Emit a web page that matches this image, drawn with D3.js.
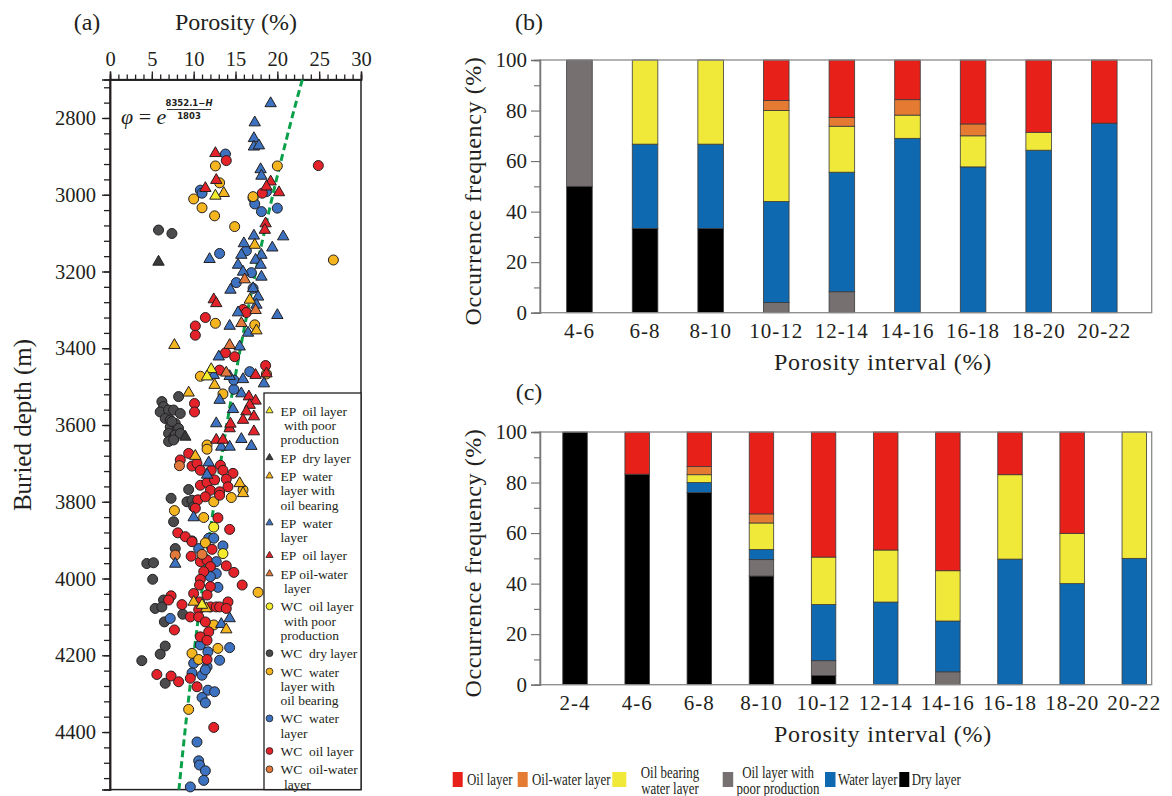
<!DOCTYPE html>
<html>
<head>
<meta charset="utf-8">
<script src="https://cdnjs.cloudflare.com/ajax/libs/d3/7.8.5/d3.min.js"></script>
<style>
  body { margin: 0; background: #fff; }
  text { font-family: "Liberation Serif", "Times New Roman", Times, serif; fill: #231f20; }
</style>
</head>
<body>
<svg id="chart" width="1172" height="796"></svg>
<script>
// ---------- panel (a) data : [porosity %, depth m] ----------
const epPoor = [[12.6,3003],[12.1,3455],[11.6,3474],[11.0,4069]];
const epDry = [[5.8,3175],[9.0,3631]];
const epBearing = [[13.6,2996],[17.3,3131],[7.7,3392],[12.5,3496],[9.4,3516],[17.5,3354],[16.7,3274],
  [10.2,3681],[15.5,3752],[15.9,3778],[10.0,4061],[11.5,4078],[13.9,4133]];
const epWater = [[19.2,2762],[17.3,2812],[17.2,2853],[17.2,2875],[17.8,2872],[18.0,2934],[18.1,2951],
  [20.7,3109],[17.2,3107],[16.0,3127],[19.4,3138],[15.7,3157],[18.1,3157],[11.9,3168],[15.3,3183],
  [17.4,3170],[18.0,3183],[15.9,3201],[18.1,3214],[14.4,3248],[17.1,3244],[17.7,3266],[15.3,3307],
  [20.0,3314],[17.5,3287],[14.3,3342],[16.5,3360],[13.0,3422],[15.5,3396],[12.4,3470],[14.3,3473],
  [15.9,3481],[18.4,3492],[15.7,3518],[13.1,3535],[14.7,3559],[12.7,3596],[15.7,3637],[13.3,3657],
  [14.3,3657],[16.9,3655],[11.8,3698],[11.6,3730],[10.0,3841],[7.8,3962],[13.3,4119],[14.3,4104]];
const epOil = [[12.6,2892],[12.7,2962],[11.4,2983],[19.2,2966],[18.7,2979],[20.2,2994],[18.6,3075],
  [18.5,3092],[12.4,3273],[12.7,3283],[16.6,3526],[17.4,3537],[16.7,3548],[16.3,3565],[17.2,3578],
  [15.9,3587],[17.2,3617],[14.3,3609],[17.4,3470],[18.7,3466],[14.4,3597],[12.7,3639],[13.5,3639]];
const epOilWater = [[16.1,3221],[17.4,3301],[15.7,3335],[14.3,3392],[13.9,3464]];

const wcPoor = [[12.4,3866],[13.5,3935]];
const wcDry = [[5.8,3092],[7.4,3101],[8.2,3526],[6.2,3539],[6.4,3552],[6.0,3566],[7.0,3561],[7.6,3561],
  [8.4,3570],[6.6,3583],[7.2,3587],[7.8,3596],[7.2,3605],[8.0,3613],[7.0,3622],[7.6,3631],[7.4,3591],
  [8.2,3609],[7.8,3626],[8.4,3622],[7.0,3643],[7.6,3639],[9.4,3768],[7.3,3791],[9.2,3800],[9.8,3796],
  [10.0,3813],[7.6,3852],[9.8,3902],[7.8,3922],[4.4,3961],[5.2,3959],[5.1,4002],[6.4,4056],[5.4,4078],
  [6.2,4074],[8.7,4093],[6.5,4113],[6.6,4176],[6.0,4197],[3.8,4214],[6.6,4273]];
const wcBearing = [[20.0,2925],[12.6,2925],[13.1,2969],[10.0,3011],[11.0,3034],[12.5,3055],[14.9,3083],
  [26.7,3170],[12.6,3335],[17.3,3339],[10.8,3473],[18.7,3467],[13.5,3519],[17.1,3005],[11.6,3652],
  [11.6,3663],[15.9,3769],[12.4,3800],[14.5,3789],[7.7,3823],[11.2,3841],[11.4,3907],[17.7,4036],
  [12.4,4121],[12.9,4182],[9.8,4195],[10.6,4211],[9.4,4341]];
const wcWater = [[13.8,2894],[10.8,2988],[11.0,2996],[17.1,3009],[17.3,3024],[18.1,3044],[20.0,3035],
  [18.7,2992],[13.1,3153],[16.3,3146],[16.9,3203],[15.1,3229],[17.1,3244],[16.7,3461],[14.8,3507],
  [14.8,3483],[10.6,3922],[11.8,3895],[12.4,3895],[13.5,3915],[12.7,3956],[12.7,3987],[12.0,3995],
  [12.9,4023],[7.2,4104],[10.8,4173],[14.3,4180],[11.7,4191],[13.1,4213],[10.0,4221],[11.6,4230],
  [9.8,4246],[11.0,4252],[11.4,4238],[11.7,4291],[12.5,4295],[11.0,4310],[11.4,4324],[10.4,4426],
  [10.6,4475],[10.7,4486],[11.4,4501],[11.2,4526],[9.6,4543]];
const wcOil = [[13.9,2911],[24.9,2924],[18.2,2996],[15.9,3299],[16.3,3307],[11.4,3320],[10.2,3342],
  [10.2,3366],[13.8,3412],[14.9,3422],[18.6,3445],[13.1,3457],[10.1,3544],[10.1,3566],[9.4,3674],
  [8.4,3691],[9.8,3707],[10.4,3700],[10.8,3718],[12.1,3718],[13.2,3705],[13.5,3718],[14.7,3726],
  [10.8,3757],[11.6,3750],[12.5,3743],[13.9,3741],[14.1,3761],[12.0,3770],[13.1,3774],[10.5,3795],
  [11.4,3787],[10.2,3817],[13.1,3783],[12.9,3842],[14.3,3872],[8.1,3881],[9.0,3891],[9.8,3904],
  [12.2,3924],[9.7,3942],[10.8,3956],[11.6,3952],[13.9,3967],[14.8,3984],[12.0,3969],[11.2,3982],
  [10.8,4002],[15.8,4017],[12.0,4021],[10.7,4017],[10.0,4039],[11.6,4043],[7.3,4045],[7.0,4056],
  [8.6,4068],[10.7,4061],[12.0,4074],[12.7,4074],[13.1,4074],[14.1,4061],[13.9,4078],[10.6,4081],
  [9.6,4100],[10.6,4100],[11.4,4113],[7.7,4134],[11.8,4139],[10.8,4152],[11.6,4161],[11.6,4211],
  [5.6,4250],[7.3,4254],[8.2,4269],[9.6,4260],[10.4,4282],[12.4,4388]];
const wcOilWater = [[8.3,3706],[7.8,3939],[11.0,3937]];

// trend line from the printed fit: phi = exp((8352.1 - H) / 1803)
const trendA = 8352.1, trendB = 1803;

// ---------- panels (b) and (c) data : occurrence frequency (%) ----------
const layerKeys = ["dry", "poor", "water", "bearing", "oilWater", "oil"];

const catsB = ["4-6","6-8","8-10","10-12","12-14","14-16","16-18","18-20","20-22"];
const bDry      = [50, 33.3, 33.3, 0, 0, 0, 0, 0, 0];
const bPoor     = [50, 0, 0, 4, 8.3, 0, 0, 0, 0];
const bWater    = [0, 33.4, 33.4, 40, 47.3, 69, 57.7, 64.3, 75];
const bBearing  = [0, 33.3, 33.3, 36, 18.2, 9.2, 12.3, 7.1, 0];
const bOilWater = [0, 0, 0, 4, 3.5, 6.1, 4.7, 0, 0];
const bOil      = [0, 0, 0, 16, 22.7, 15.7, 25.3, 28.6, 25];

const catsC = ["2-4","4-6","6-8","8-10","10-12","12-14","14-16","16-18","18-20","20-22"];
const cDry      = [100, 83.3, 76, 43, 3.6, 0, 0, 0, 0, 0];
const cPoor     = [0, 0, 0, 6.5, 5.9, 0, 5.1, 0, 0, 0];
const cWater    = [0, 0, 4, 4, 22.2, 32.7, 20.1, 49.7, 40, 50];
const cBearing  = [0, 0, 3.1, 10.5, 18.8, 20.6, 19.9, 33.4, 19.9, 50];
const cOilWater = [0, 0, 3.2, 3.6, 0, 0, 0, 0, 0, 0];
const cOil      = [0, 16.7, 13.7, 32.4, 49.5, 46.7, 54.9, 16.9, 40.1, 0];

const barColors = {oil: "#e8201a", oilWater: "#e57b33", bearing: "#f0e93a",
                   poor: "#767170", water: "#0f69b0", dry: "#000000"};
const dotColors = {poor: "#f3ec2c", dry: "#4b4b4d", bearing: "#f5b51e",
                   water: "#3d72c0", oil: "#e3222a", oilWater: "#e2793a"};

const serif = '"Liberation Serif", "Times New Roman", Times, serif';
const ink = "#231f20";
const svg = d3.select("#chart");

// ===================== panel (a) =====================
const xA = d3.scaleLinear().domain([0, 30]).range([110, 361]);
const yA = d3.scaleLinear().domain([2700, 4550]).range([79.6, 789.6]);

function styleAxis(g, size) {
  g.select(".domain").attr("stroke", ink).attr("stroke-width", 1.5);
  g.selectAll(".tick line").attr("stroke", ink).attr("stroke-width", 1.3);
  g.selectAll("text").style("font-family", serif).style("font-size", size + "px").attr("fill", ink);
}

const gxMinor = svg.append("g").attr("transform", "translate(0,79.6)")
  .call(d3.axisTop(xA).tickValues(d3.range(0, 31)).tickSize(5).tickFormat(""));
styleAxis(gxMinor, 20);
const gxMajor = svg.append("g").attr("transform", "translate(0,79.6)")
  .call(d3.axisTop(xA).tickValues(d3.range(0, 31, 5)).tickSize(8).tickPadding(6));
styleAxis(gxMajor, 20.5);

const gyMinor = svg.append("g").attr("transform", "translate(110,0)")
  .call(d3.axisLeft(yA).tickValues(d3.range(2720, 4550, 40)).tickSize(6).tickFormat(""));
styleAxis(gyMinor, 20);
const gyMajor = svg.append("g").attr("transform", "translate(110,0)")
  .call(d3.axisLeft(yA).tickValues(d3.range(2800, 4401, 200)).tickSize(8).tickPadding(6)
    .tickFormat(d3.format("d")));
styleAxis(gyMajor, 20.5);

svg.append("rect").attr("x", 110).attr("y", 79.6).attr("width", 251).attr("height", 710)
  .attr("fill", "none").attr("stroke", ink).attr("stroke-width", 1.5);

// trend line
const depthSamples = d3.range(2700, 4551, 25);
svg.append("path")
  .datum(depthSamples)
  .attr("d", d3.line().x(h => xA(Math.exp((trendA - h) / trendB))).y(h => yA(h)))
  .attr("fill", "none").attr("stroke", "#0aa04a").attr("stroke-width", 3)
  .attr("stroke-dasharray", "7,4");

const scatterSeries = [
  {data: wcDry, shape: "circle", color: dotColors.dry},
  {data: wcWater, shape: "circle", color: dotColors.water},
  {data: wcBearing, shape: "circle", color: dotColors.bearing},
  {data: wcPoor, shape: "circle", color: dotColors.poor},
  {data: wcOil, shape: "circle", color: dotColors.oil},
  {data: wcOilWater, shape: "circle", color: dotColors.oilWater},
  {data: epWater, shape: "tri", color: dotColors.water},
  {data: epBearing, shape: "tri", color: dotColors.bearing},
  {data: epPoor, shape: "tri", color: dotColors.poor},
  {data: epOil, shape: "tri", color: dotColors.oil},
  {data: epOilWater, shape: "tri", color: dotColors.oilWater},
  {data: epDry, shape: "tri", color: "#3a3a3a"}
];

const triPath = d3.symbol().type(d3.symbolTriangle).size(56)();
const dots = svg.append("g");
scatterSeries.forEach(s => {
  if (s.shape === "circle") {
    dots.selectAll(null).data(s.data).enter().append("circle")
      .attr("cx", d => xA(d[0])).attr("cy", d => yA(d[1])).attr("r", 5)
      .attr("fill", s.color).attr("stroke", ink).attr("stroke-width", 1);
  } else {
    dots.selectAll(null).data(s.data).enter().append("path")
      .attr("d", triPath)
      .attr("transform", d => "translate(" + xA(d[0]) + "," + yA(d[1]) + ")")
      .attr("fill", s.color).attr("stroke", ink).attr("stroke-width", 1);
  }
});

// formula
const f = svg.append("g");
f.append("text").attr("x", 121).attr("y", 124).style("font-size", "22px")
  .html('<tspan font-style="italic">φ</tspan><tspan> = </tspan><tspan font-style="italic">e</tspan>');
f.append("text").attr("x", 189).attr("y", 106).attr("text-anchor", "middle")
  .style("font-family", '"DejaVu Sans", sans-serif').style("font-size", "8.5px").style("font-weight", "bold")
  .html('8352.1−<tspan font-style="italic">H</tspan>');
f.append("line").attr("x1", 167).attr("x2", 211).attr("y1", 109.5).attr("y2", 109.5)
  .attr("stroke", ink).attr("stroke-width", 0.9);
f.append("text").attr("x", 189).attr("y", 119).attr("text-anchor", "middle")
  .style("font-family", '"DejaVu Sans", sans-serif').style("font-size", "8.5px").style("font-weight", "bold")
  .text("1803");

// legend (a)
const legA = [
  {lines: ["EP  oil layer", " with poor", "production"], shape: "tri", color: dotColors.poor},
  {lines: ["EP  dry layer"], shape: "tri", color: "#3a3a3a"},
  {lines: ["EP  water", "layer with", "oil bearing"], shape: "tri", color: dotColors.bearing},
  {lines: ["EP  water", "layer"], shape: "tri", color: dotColors.water},
  {lines: ["EP  oil layer"], shape: "tri", color: dotColors.oil},
  {lines: ["EP oil-water", " layer"], shape: "tri", color: dotColors.oilWater},
  {lines: ["WC  oil layer", " with poor", "production"], shape: "circle", color: dotColors.poor},
  {lines: ["WC  dry layer"], shape: "circle", color: dotColors.dry},
  {lines: ["WC  water", "layer with", "oil bearing"], shape: "circle", color: dotColors.bearing},
  {lines: ["WC  water", "layer"], shape: "circle", color: dotColors.water},
  {lines: ["WC  oil layer"], shape: "circle", color: dotColors.oil},
  {lines: ["WC  oil-water", " layer"], shape: "circle", color: dotColors.oilWater}
];
svg.append("rect").attr("x", 264).attr("y", 393).attr("width", 97).attr("height", 396.6)
  .attr("fill", "#fff").attr("stroke", ink).attr("stroke-width", 1.3);
const smallTri = d3.symbol().type(d3.symbolTriangle).size(22)();
let ly = 410.7;
const lineH = 14.3;
legA.forEach(item => {
  if (item.shape === "tri") {
    svg.append("path").attr("d", smallTri).attr("transform", "translate(269.5," + ly + ")")
      .attr("fill", item.color).attr("stroke", ink).attr("stroke-width", 0.8);
  } else {
    svg.append("circle").attr("cx", 269.5).attr("cy", ly).attr("r", 3.4)
      .attr("fill", item.color).attr("stroke", ink).attr("stroke-width", 0.8);
  }
  item.lines.forEach((t, i) => {
    svg.append("text").attr("x", 280.5).attr("y", ly + 5 + i * lineH)
      .style("font-size", "13.5px").style("white-space", "pre").text(t);
  });
  ly += item.lines.length * lineH + 4;
});

// titles (a)
svg.append("text").attr("x", 87).attr("y", 30).attr("text-anchor", "middle").style("font-size", "24px").text("(a)");
svg.append("text").attr("x", 236).attr("y", 30).attr("text-anchor", "middle").style("font-size", "24px").text("Porosity (%)");
svg.append("text").attr("transform", "translate(31,425) rotate(-90)").attr("text-anchor", "middle")
  .style("font-size", "25px").text("Buried depth (m)");

// ===================== panels (b) and (c) =====================
function drawBars(cats, cols, top, pad) {
  const rows = cats.map((c, i) => {
    const r = {cat: c};
    layerKeys.forEach((k, j) => { r[k] = cols[j][i]; });
    return r;
  });
  const left = 540, right = 1151.7, bottom = top + 252.7;
  const x = d3.scaleBand().domain(cats).range([left, right])
    .paddingInner(pad.inner).paddingOuter(pad.outer).align(pad.align);
  const y = d3.scaleLinear().domain([0, 100]).range([bottom, top]);
  const stacked = d3.stack().keys(layerKeys)(rows);

  const g = svg.append("g");
  g.selectAll("g.layer").data(stacked).enter().append("g")
    .attr("fill", d => barColors[d.key])
    .selectAll("rect").data(d => d.filter(p => p[1] - p[0] > 0)).enter().append("rect")
    .attr("x", d => x(d.data.cat)).attr("width", x.bandwidth())
    .attr("y", d => y(d[1])).attr("height", d => y(d[0]) - y(d[1]))
    .attr("stroke", "#3a3a3a").attr("stroke-width", 0.8);

  g.append("rect").attr("x", left).attr("y", top).attr("width", right - left).attr("height", bottom - top)
    .attr("fill", "none").attr("stroke", "#8a8a8a").attr("stroke-width", 1.3);

  const minor = g.append("g").attr("transform", "translate(" + left + ",0)")
    .call(d3.axisLeft(y).tickValues([10, 30, 50, 70, 90]).tickSize(6).tickFormat(""));
  const major = g.append("g").attr("transform", "translate(" + left + ",0)")
    .call(d3.axisLeft(y).tickValues([0, 20, 40, 60, 80, 100]).tickSize(9).tickPadding(4));
  [minor, major].forEach(a => {
    a.select(".domain").attr("stroke", "#7a7a7a").attr("stroke-width", 1.3);
    a.selectAll(".tick line").attr("stroke", "#6d6e71").attr("stroke-width", 1.1);
    a.selectAll("text").style("font-family", serif).style("font-size", "21px").attr("fill", ink);
  });

  g.selectAll("text.xl").data(cats).enter().append("text")
    .attr("x", d => x(d) + x.bandwidth() / 2).attr("y", bottom + 25.5)
    .attr("text-anchor", "middle").style("font-size", "21px").style("letter-spacing", "1px").text(d => d);

  g.append("text").attr("x", 883).attr("y", bottom + 57).attr("text-anchor", "middle")
    .style("font-size", "24px").style("letter-spacing", "0.8px").text("Porosity interval (%)");
  g.append("text").attr("transform", "translate(481," + (top + 131) + ") rotate(-90)")
    .attr("text-anchor", "middle").style("font-size", "24px").style("letter-spacing", "0.6px")
    .text("Occurrence frequency (%)");
}

drawBars(catsB, [bDry, bPoor, bWater, bBearing, bOilWater, bOil], 60,
  {inner: 0.61, outer: 0.467, align: 0.435});
drawBars(catsC, [cDry, cPoor, cWater, cBearing, cOilWater, cOil], 432,
  {inner: 0.606, outer: 0.225, align: 0.815});

svg.append("text").attr("x", 529).attr("y", 30).attr("text-anchor", "middle").style("font-size", "24px").text("(b)");
svg.append("text").attr("x", 529).attr("y", 400).attr("text-anchor", "middle").style("font-size", "24px").text("(c)");

// bottom legend
const legB = [
  {key: "oil", sx: 452.7, sw: 10, lines: ["Oil layer"], tx: 467, anchor: "start"},
  {key: "oilWater", sx: 517.7, sw: 10, lines: ["Oil-water layer"], tx: 532, anchor: "start"},
  {key: "bearing", sx: 612.3, sw: 14, lines: ["Oil bearing", "water layer"], tx: 670, anchor: "middle"},
  {key: "poor", sx: 722.7, sw: 10.5, lines: ["Oil layer with", "poor production"], tx: 778, anchor: "middle"},
  {key: "water", sx: 825, sw: 10.5, lines: ["Water layer"], tx: 838, anchor: "start"},
  {key: "dry", sx: 899.3, sw: 10, lines: ["Dry layer"], tx: 911.7, anchor: "start"}
];
legB.forEach(it => {
  svg.append("rect").attr("x", it.sx).attr("y", 772).attr("width", it.sw).attr("height", 15)
    .attr("fill", barColors[it.key]);
  it.lines.forEach((t, i) => {
    const yy = it.lines.length === 1 ? 785 : 778 + i * 16;
    svg.append("text").attr("transform", "translate(" + it.tx + "," + yy + ") scale(0.76,1)")
      .attr("text-anchor", it.anchor).style("font-size", "17px").text(t);
  });
});
</script>
</body>
</html>
